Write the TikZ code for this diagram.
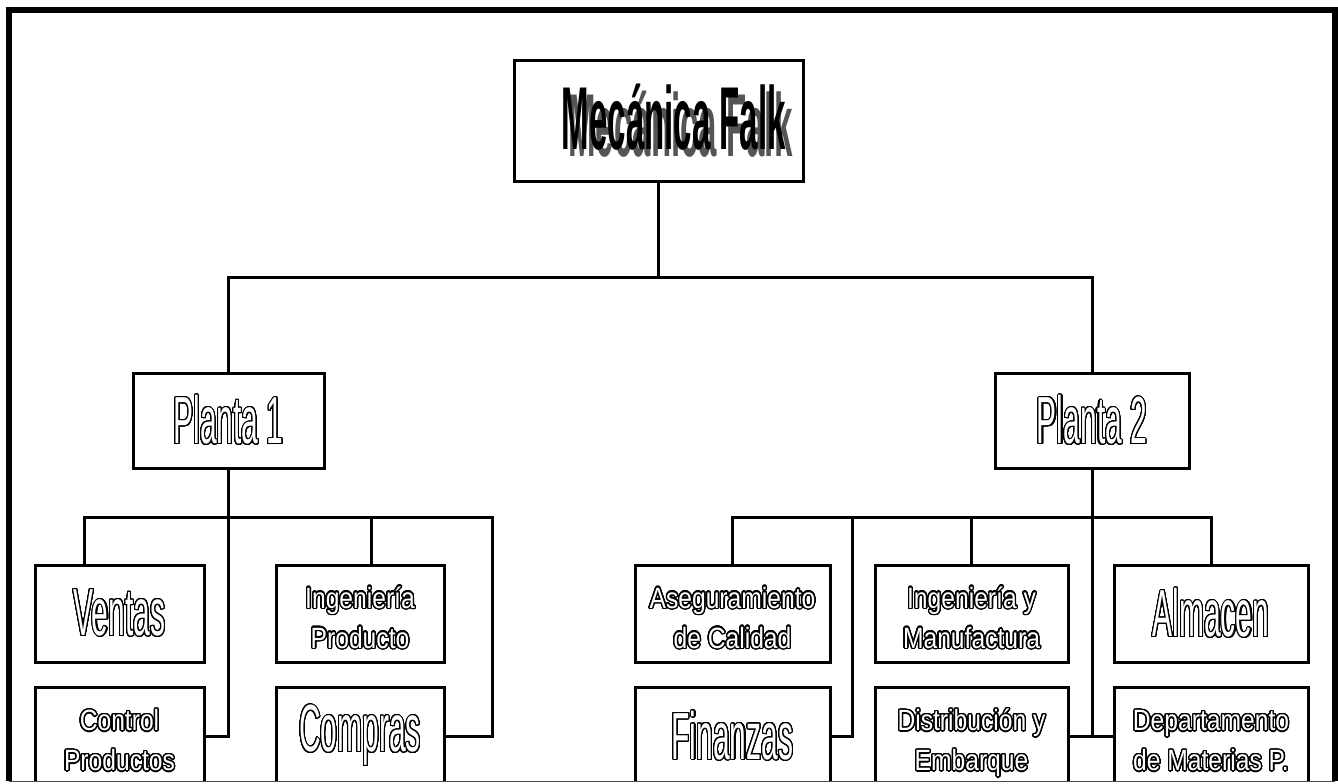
\documentclass[tikz,border=0pt]{standalone}
\usepackage{fontspec}
\usepackage{xcolor}
\usepackage{contour}
\usepackage{tikz}
\usetikzlibrary{positioning}
\setmainfont{Liberation Sans}
\newfontfamily\bigfont[FakeStretch=0.45]{Liberation Sans}
\newfontfamily\smallfont[FakeStretch=0.84]{Liberation Sans}
\newfontfamily\titlefont[FakeStretch=0.37]{Liberation Sans}
\definecolor{shadowgray}{HTML}{555555}
\contournumber{32}
\newcommand\olbig[1]{{\contourlength{0.8pt}\contour{black}{#1}}}
\newcommand\olsmall[1]{{\contourlength{1pt}\contour{black}{#1}}}
\newcommand\twolines[2]{\raisebox{-5pt}[\height][\depth]{\begin{tabular}{@{}c@{}}\olsmall{#1}\\\olsmall{#2}\end{tabular}}}
\newcommand\shadowed[1]{\rlap{\kern5pt\raisebox{-5pt}{\color{shadowgray}#1}}#1}

\begin{document}
\begin{tikzpicture}[
    x=0.75pt,y=-0.75pt,
    node distance=16.5pt and 30pt,
    box/.style={rectangle,draw=black,line width=2.25pt,fill=white,inner sep=0pt},
    subbox/.style={box,minimum height=72.75pt},
    lowbox/.style={box,minimum height=73.5pt},
    bigtxt/.style={font=\bigfont\fontsize{50}{52}\selectfont,text=white},
    smalltxt/.style={font=\smallfont\fontsize{22}{30}\selectfont,text=white},
    link/.style={line width=2.25pt},
    outer/.style={line width=4.5pt}
  ]
    \useasboundingbox (0,0) rectangle (1338,783);
    \fill[white] (0,0) rectangle (1338,783);

    \begin{scope}
    \clip (0,0) rectangle (1338,781.5);
    % top of the chart
    \node[box,minimum width=216.75pt,minimum height=90.75pt,
          font=\titlefont\bfseries\fontsize{67}{70}\selectfont] (falk) at (658.5,120.5)
          {\hspace*{23pt}\shadowed{Mecánica Falk}};
    \node[box,bigtxt,minimum width=143.25pt,minimum height=71.25pt] (planta1) at (228.5,420.5) {\olbig{Planta 1}};
    \node[box,bigtxt,minimum width=145.5pt,minimum height=71.25pt] (planta2) at (1092,420.5) {\olbig{Planta 2}};

    % planta 1
    \node[subbox,bigtxt,minimum width=126.75pt] (ventas) at (119.5,613.5) {\olbig{Ventas}};
    \node[subbox,smalltxt,minimum width=126pt] (ingprod) at (360,613.5) {\twolines{Ingeniería}{Producto}};
    \node[lowbox,smalltxt,minimum width=126.75pt,below=of ventas] (control) {\twolines{Control}{Productos}};
    \node[lowbox,bigtxt,minimum width=126pt,below=of ingprod] (compras) {\olbig{Compras}};

    % planta 2
    \node[subbox,smalltxt,minimum width=146.25pt] (aseg) at (732.5,613.5) {\twolines{Aseguramiento}{de Calidad}};
    \node[subbox,smalltxt,minimum width=144.75pt] (ingman) at (971.5,613.5) {\twolines{Ingeniería y}{Manufactura}};
    \node[subbox,bigtxt,minimum width=145.5pt] (almacen) at (1211,613.5) {\olbig{Almacen}};
    \node[lowbox,bigtxt,minimum width=146.25pt,below=of aseg] (finanzas) {\olbig{Finanzas}};
    \node[lowbox,smalltxt,minimum width=144.75pt,below=of ingman] (distrib) {\twolines{Distribución y}{Embarque}};
    \node[lowbox,smalltxt,minimum width=145.5pt,below=of almacen] (depto) {\twolines{Departamento}{de Materias P.}};

    \coordinate (bus) at (658.5,277);
    \coordinate (busLw) at (84,517);
    \coordinate (busLm) at (371,517);
    \coordinate (busLe) at (492,517);
    \coordinate (busRf) at (852,517);

    \draw[link] (falk.south) -- (bus);
    \draw[link] (planta1.north) |- (bus) -| (planta2.north);
    \draw[link] (busLw |- ventas.north) -- (busLw) -- (busLe) |- (compras.east);
    \draw[link] (busLm) -- (busLm |- ingprod.north);
    \draw[link] (planta1.south) |- (control.east);
    \draw[link] (aseg.north) |- (busLe -| almacen.north) -- (almacen.north);
    \draw[link] (ingman.north) -- (ingman.north |- busRf);
    \draw[link] (busRf) |- (finanzas.east);
    \draw[link] (planta2.south) |- (distrib.east);
    \draw[link] (distrib.east) -- (depto.west);
    \end{scope}

    % outer frame
    \draw[outer] (9,781) -- (9,10) -- (1335,10) -- (1335,781);
    \draw[line width=0.75pt,gray!60!black] (9,781) -- (1335,781);
  \end{tikzpicture}
\end{document}
